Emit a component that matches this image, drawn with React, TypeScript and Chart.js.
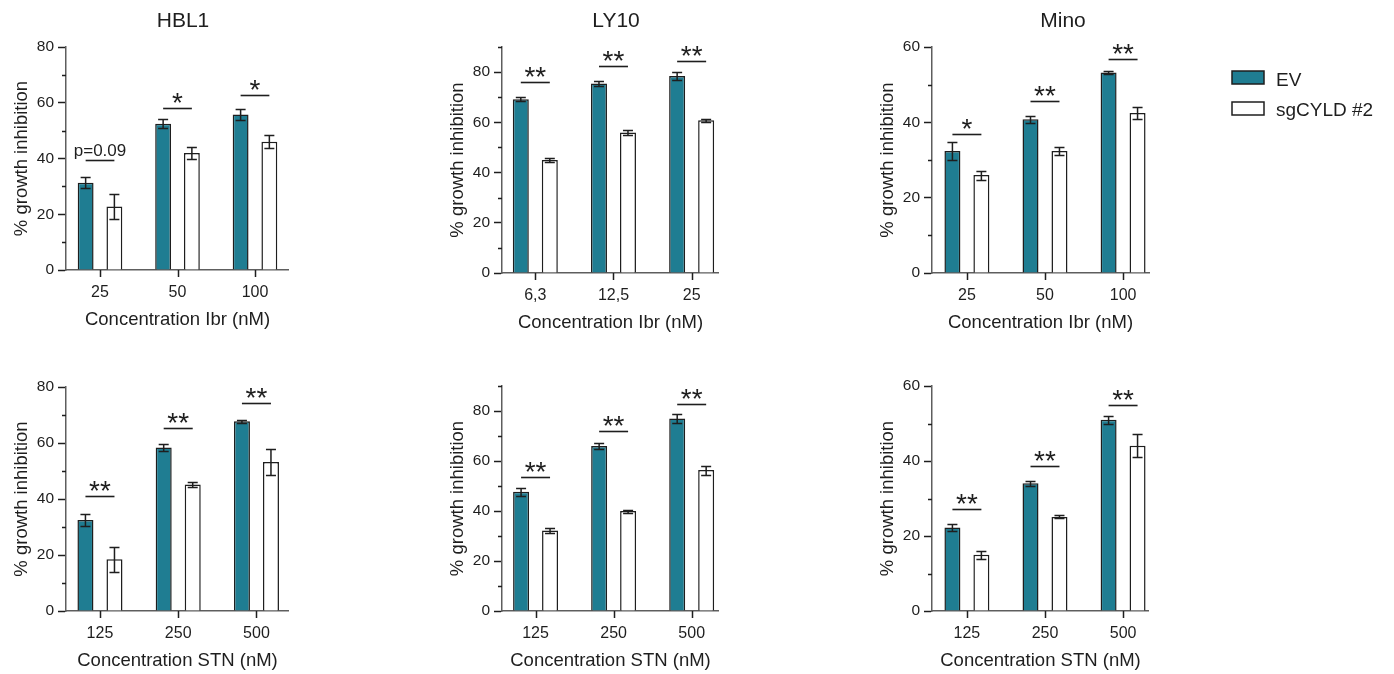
import React, { useEffect, useRef } from 'react';
import { Chart, registerables } from 'chart.js';

Chart.register(...registerables);

const FONT = '"Liberation Sans", Arial, Helvetica, sans-serif';
const TEAL = '#1f7d92';
const INK = '#1e1e1e';
const AXIS = '#5e5e5e';

const seriesLabels = ['EV', 'sgCYLD #2'];
const yAxisTitle = '% growth inhibition';
const ibrAxisTitle = 'Concentration Ibr (nM)';
const stnAxisTitle = 'Concentration STN (nM)';

// ---- HBL1, ibrutinib ----
const hbl1IbrDoses = ['25', '50', '100'];
const hbl1IbrEV = [31.3, 52.5, 55.8];
const hbl1IbrEVErr = [1.9, 1.6, 1.9];
const hbl1IbrSg = [22.8, 42.0, 46.0];
const hbl1IbrSgErr = [4.5, 2.2, 2.3];
const hbl1IbrSig = ['p=0.09', '*', '*'];
const hbl1IbrSigY = [39.5, 58.0, 62.7];

// ---- LY10, ibrutinib ----
const ly10IbrDoses = ['6,3', '12,5', '25'];
const ly10IbrEV = [69.2, 75.5, 78.5];
const ly10IbrEVErr = [0.8, 1.0, 1.6];
const ly10IbrSg = [45.0, 56.0, 60.8];
const ly10IbrSgErr = [0.6, 1.0, 0.6];
const ly10IbrSig = ['**', '**', '**'];
const ly10IbrSigY = [76.0, 82.3, 84.6];

// ---- Mino, ibrutinib ----
const minoIbrDoses = ['25', '50', '100'];
const minoIbrEV = [32.4, 40.8, 53.2];
const minoIbrEVErr = [2.3, 1.0, 0.4];
const minoIbrSg = [26.0, 32.4, 42.5];
const minoIbrSgErr = [1.2, 1.1, 1.5];
const minoIbrSig = ['*', '**', '**'];
const minoIbrSigY = [36.9, 45.7, 56.7];

// ---- HBL1, STN ----
const hbl1StnDoses = ['125', '250', '500'];
const hbl1StnEV = [32.5, 58.4, 67.8];
const hbl1StnEVErr = [2.0, 1.4, 0.5];
const hbl1StnSg = [18.5, 45.2, 53.2];
const hbl1StnSgErr = [4.4, 1.0, 4.8];
const hbl1StnSig = ['**', '**', '**'];
const hbl1StnSigY = [40.9, 65.3, 74.3];

// ---- LY10, STN ----
const ly10StnDoses = ['125', '250', '500'];
const ly10StnEV = [47.7, 66.0, 77.0];
const ly10StnEVErr = [1.7, 1.3, 1.7];
const ly10StnSg = [32.2, 40.0, 56.4];
const ly10StnSgErr = [1.0, 0.6, 1.8];
const ly10StnSig = ['**', '**', '**'];
const ly10StnSigY = [53.5, 72.0, 82.8];

// ---- Mino, STN ----
const minoStnDoses = ['125', '250', '500'];
const minoStnEV = [22.3, 34.1, 51.0];
const minoStnEVErr = [0.9, 0.7, 1.0];
const minoStnSg = [15.0, 25.1, 44.1];
const minoStnSgErr = [1.1, 0.4, 3.0];
const minoStnSig = ['**', '**', '**'];
const minoStnSigY = [27.1, 38.8, 55.0];

type Box = {
  left: number; top: number; width: number; height: number;
  padTop: number; padRight: number; xMin: number; xMax: number; titleDx: number;
};

type PanelDef = {
  title?: string; xTitle: string; doses: string[];
  ev: number[]; evErr: number[]; sg: number[]; sgErr: number[];
  sig: string[]; sigY: number[]; yMax: number; legend?: boolean; box: Box;
};

const panels: PanelDef[] = [
  {
    title: 'HBL1', xTitle: ibrAxisTitle, doses: hbl1IbrDoses,
    ev: hbl1IbrEV, evErr: hbl1IbrEVErr, sg: hbl1IbrSg, sgErr: hbl1IbrSgErr,
    sig: hbl1IbrSig, sigY: hbl1IbrSigY, yMax: 80,
    box: { left: 0, top: 0, width: 289, height: 332, padTop: 47, padRight: 0, xMin: -0.439, xMax: 2.439, titleDx: 117 },
  },
  {
    title: 'LY10', xTitle: ibrAxisTitle, doses: ly10IbrDoses,
    ev: ly10IbrEV, evErr: ly10IbrEVErr, sg: ly10IbrSg, sgErr: ly10IbrSgErr,
    sig: ly10IbrSig, sigY: ly10IbrSigY, yMax: 90,
    box: { left: 436, top: 0, width: 283, height: 335, padTop: 47, padRight: 0, xMin: -0.426, xMax: 2.35, titleDx: 114 },
  },
  {
    title: 'Mino', xTitle: ibrAxisTitle, doses: minoIbrDoses,
    ev: minoIbrEV, evErr: minoIbrEVErr, sg: minoIbrSg, sgErr: minoIbrSgErr,
    sig: minoIbrSig, sigY: minoIbrSigY, yMax: 60, legend: true,
    box: { left: 866, top: 0, width: 528, height: 335, padTop: 47, padRight: 245, xMin: -0.447, xMax: 2.332, titleDx: 131 },
  },
  {
    xTitle: stnAxisTitle, doses: hbl1StnDoses,
    ev: hbl1StnEV, evErr: hbl1StnEVErr, sg: hbl1StnSg, sgErr: hbl1StnSgErr,
    sig: hbl1StnSig, sigY: hbl1StnSigY, yMax: 80,
    box: { left: 0, top: 340, width: 289, height: 333, padTop: 47, padRight: 0, xMin: -0.434, xMax: 2.416, titleDx: 0 },
  },
  {
    xTitle: stnAxisTitle, doses: ly10StnDoses,
    ev: ly10StnEV, evErr: ly10StnEVErr, sg: ly10StnSg, sgErr: ly10StnSgErr,
    sig: ly10StnSig, sigY: ly10StnSigY, yMax: 90,
    box: { left: 436, top: 340, width: 283, height: 333, padTop: 46, padRight: 0, xMin: -0.43, xMax: 2.35, titleDx: 0 },
  },
  {
    xTitle: stnAxisTitle, doses: minoStnDoses,
    ev: minoStnEV, evErr: minoStnEVErr, sg: minoStnSg, sgErr: minoStnSgErr,
    sig: minoStnSig, sigY: minoStnSigY, yMax: 60,
    box: { left: 866, top: 340, width: 283, height: 333, padTop: 46, padRight: 0, xMin: -0.447, xMax: 2.332, titleDx: 0 },
  },
];

function makePlugins(p: PanelDef) {
  const errorBars = {
    id: 'errorBars',
    afterDatasetsDraw(chart: any) {
      const { ctx } = chart;
      const y = chart.scales.y;
      chart.data.datasets.forEach((ds: any, di: number) => {
        const meta = chart.getDatasetMeta(di);
        meta.data.forEach((bar: any, i: number) => {
          const v = ds.data[i].y;
          const e = ds.errors[i];
          const top = Math.round(y.getPixelForValue(v + e)) + 0.5;
          const bot = Math.round(y.getPixelForValue(v - e)) + 0.5;
          const cx = bar.x;
          const cap = 5;
          ctx.save();
          ctx.strokeStyle = INK;
          ctx.lineWidth = 1.5;
          ctx.beginPath();
          ctx.moveTo(cx, top);
          ctx.lineTo(cx, bot);
          ctx.moveTo(cx - cap, top);
          ctx.lineTo(cx + cap, top);
          ctx.moveTo(cx - cap, bot);
          ctx.lineTo(cx + cap, bot);
          ctx.stroke();
          ctx.restore();
        });
      });
    },
  };

  const sigMarks = {
    id: 'sigMarks',
    afterDatasetsDraw(chart: any) {
      const { ctx } = chart;
      const y = chart.scales.y;
      const m0 = chart.getDatasetMeta(0);
      const m1 = chart.getDatasetMeta(1);
      p.sig.forEach((label, i) => {
        const x0 = m0.data[i].x;
        const x1 = m1.data[i].x;
        const py = Math.round(y.getPixelForValue(p.sigY[i])) + 0.5;
        ctx.save();
        ctx.strokeStyle = INK;
        ctx.lineWidth = 1.6;
        ctx.beginPath();
        ctx.moveTo(x0, py);
        ctx.lineTo(x1, py);
        ctx.stroke();
        ctx.fillStyle = INK;
        ctx.textAlign = 'center';
        ctx.textBaseline = 'alphabetic';
        if (label.startsWith('*')) {
          ctx.font = `28px ${FONT}`;
          ctx.fillText(label, (x0 + x1) / 2, py + 3);
        } else {
          ctx.font = `17px ${FONT}`;
          ctx.fillText(label, (x0 + x1) / 2, py - 5);
        }
        ctx.restore();
      });
    },
  };

  // y minor ticks (odd multiples of 10) and x tick marks at the group centres
  const axisTicks = {
    id: 'axisTicks',
    afterDraw(chart: any) {
      const { ctx, chartArea } = chart;
      const y = chart.scales.y;
      const x = chart.scales.x;
      ctx.save();
      ctx.strokeStyle = INK;
      ctx.lineWidth = 1.5;
      ctx.beginPath();
      for (let v = 10; v <= p.yMax; v += 20) {
        const py = Math.round(y.getPixelForValue(v)) + 0.5;
        ctx.moveTo(chartArea.left - 4, py);
        ctx.lineTo(chartArea.left, py);
      }
      p.doses.forEach((_d, i) => {
        const px = Math.round(x.getPixelForValue(i)) + 0.5;
        ctx.moveTo(px, chartArea.bottom);
        ctx.lineTo(px, chartArea.bottom + 7);
      });
      ctx.stroke();
      ctx.restore();
    },
  };

  const decor = {
    id: 'decor',
    afterDraw(chart: any) {
      const { ctx, chartArea } = chart;
      ctx.save();
      ctx.fillStyle = INK;
      if (p.title) {
        ctx.font = `21px ${FONT}`;
        ctx.textAlign = 'center';
        ctx.textBaseline = 'alphabetic';
        ctx.fillText(p.title, chartArea.left + p.box.titleDx, 27);
      }
      if (p.legend) {
        const bx = chartArea.right + 83;
        const fills = [TEAL, '#ffffff'];
        const tops = [71, 102];
        const baselines = [86, 116];
        seriesLabels.forEach((lab, i) => {
          ctx.fillStyle = fills[i];
          ctx.fillRect(bx, tops[i], 32, 13);
          ctx.strokeStyle = INK;
          ctx.lineWidth = 1.5;
          ctx.strokeRect(bx, tops[i], 32, 13);
          ctx.fillStyle = INK;
          ctx.font = `19px ${FONT}`;
          ctx.textAlign = 'left';
          ctx.textBaseline = 'alphabetic';
          ctx.fillText(lab, bx + 44, baselines[i]);
        });
      }
      ctx.restore();
    },
  };

  return [errorBars, sigMarks, axisTicks, decor];
}

function Panel({ p }: { p: PanelDef }) {
  const ref = useRef<HTMLCanvasElement>(null);
  useEffect(() => {
    const b = p.box;
    const barOpts = {
      borderColor: INK,
      borderWidth: 1.5,
      categoryPercentage: 0.742,
      barPercentage: 0.552,
    };
    const chart = new Chart(ref.current as HTMLCanvasElement, {
      type: 'bar',
      data: {
        datasets: [
          { label: seriesLabels[0], data: p.ev.map((v, i) => ({ x: i, y: v })), errors: p.evErr, backgroundColor: TEAL, ...barOpts } as any,
          { label: seriesLabels[1], data: p.sg.map((v, i) => ({ x: i, y: v })), errors: p.sgErr, backgroundColor: '#ffffff', ...barOpts } as any,
        ],
      },
      options: {
        animation: false,
        responsive: false,
        devicePixelRatio: 1,
        events: [],
        layout: { padding: { top: b.padTop, right: b.padRight, bottom: 0, left: 0 } },
        plugins: {
          legend: { display: false },
          tooltip: { enabled: false },
          title: { display: false },
        },
        scales: {
          x: {
            type: 'linear',
            min: b.xMin,
            max: b.xMax,
            offset: false,
            z: 1,
            afterFit: (s: any) => { s.height = 62; },
            border: { display: true, color: AXIS, width: 1.5 },
            grid: { display: true, offset: false, drawOnChartArea: false, drawTicks: true, tickLength: 7, tickColor: 'rgba(0,0,0,0)', tickWidth: 1.5 },
            ticks: {
              stepSize: 1,
              includeBounds: false,
              autoSkip: false,
              maxRotation: 0,
              padding: 6,
              color: INK,
              font: { family: FONT, size: 16 },
              callback: (v: any) => (p.doses[v] !== undefined ? p.doses[v] : ''),
            },
            title: { display: true, text: p.xTitle, color: INK, font: { family: FONT, size: 18.5 }, padding: { top: 0, bottom: 1 } },
          },
          y: {
            type: 'linear',
            min: 0,
            max: p.yMax,
            z: 1,
            afterFit: (s: any) => { s.width = 66; },
            border: { display: true, color: AXIS, width: 1.5 },
            grid: {
              display: true,
              drawOnChartArea: false,
              drawTicks: true,
              tickLength: 8,
              tickWidth: 1.5,
              tickColor: (c: any) => (c.tick && c.tick.value % 20 === 0 ? INK : 'rgba(0,0,0,0)'),
            },
            ticks: {
              stepSize: 10,
              padding: 4,
              color: INK,
              font: { family: FONT, size: 15.5 },
              callback: (v: any) => (v % 20 === 0 ? String(v) : ''),
            },
            title: { display: true, text: yAxisTitle, color: INK, font: { family: FONT, size: 18.5 }, padding: { top: 11, bottom: 0 } },
          },
        },
      } as any,
      plugins: makePlugins(p) as any,
    });
    return () => chart.destroy();
  }, [p]);
  const b = p.box;
  return (
    <canvas
      ref={ref}
      width={b.width}
      height={b.height}
      style={{ position: 'absolute', left: b.left, top: b.top, width: b.width, height: b.height }}
    />
  );
}

export default function App() {
  return (
    <div style={{ position: 'absolute', left: 0, top: 0, width: 1394, height: 674, overflow: 'hidden', background: '#ffffff' }}>
      {panels.map((p, i) => (
        <Panel key={i} p={p} />
      ))}
    </div>
  );
}
